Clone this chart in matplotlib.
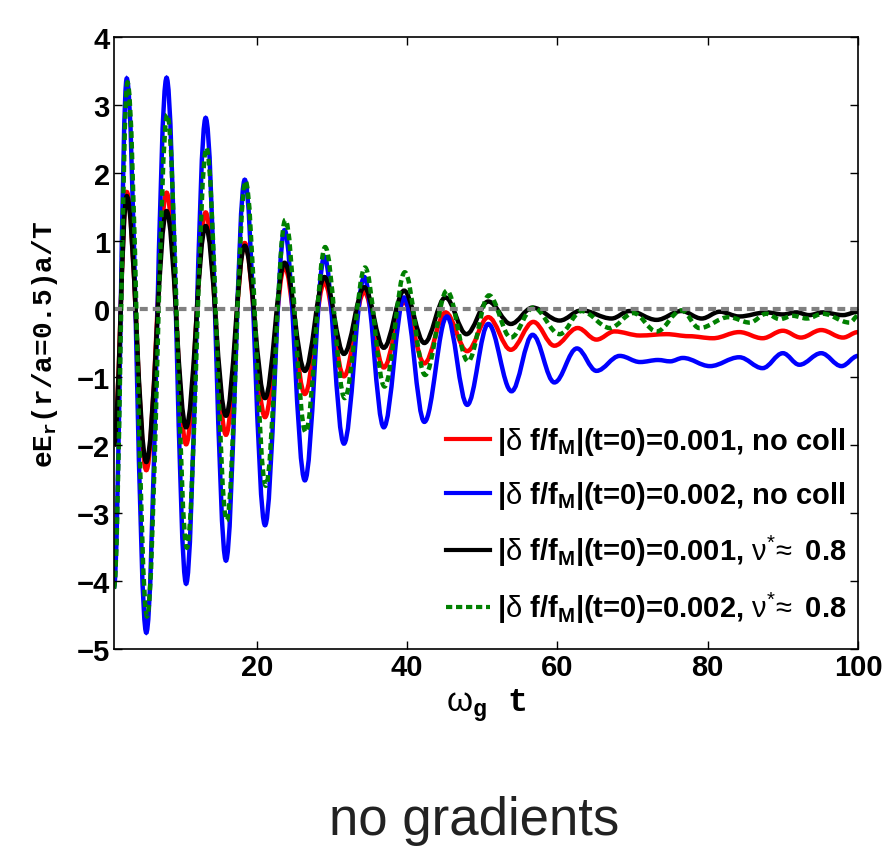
import numpy as np
import matplotlib
matplotlib.use("Agg")
import matplotlib.pyplot as plt
from matplotlib.path import Path
from matplotlib.patches import PathPatch
from matplotlib.lines import Line2D

# extrema (peaks / troughs), omega_g t vs eE_r a/T
t_red = [1.0, 2.7, 5.3, 8.0, 10.6, 13.2, 15.9, 18.4, 21.1, 23.7, 26.4, 29.0, 31.6, 34.3,
         36.9, 39.6, 42.3, 45.1, 48.0, 50.8, 53.8, 56.8, 59.6, 62.7, 65.2, 67.6, 71.0,
         74.5, 77.5, 80.7, 84.2, 87.3, 90.0, 92.4, 95.1, 98.0, 100.0]
e_red = [-2.0, 1.72, -2.37, 1.71, -1.99, 1.42, -1.85, 0.97, -1.59, 0.62, -1.25, 0.39, -0.99, 0.25,
         -0.86, 0.10, -0.80, -0.05, -0.62, -0.12, -0.60, -0.19, -0.54, -0.28, -0.45, -0.33, -0.39,
         -0.37, -0.40, -0.43, -0.34, -0.43, -0.32, -0.42, -0.31, -0.42, -0.34]

t_blue = [1.0, 2.7, 5.3, 8.0, 10.6, 13.2, 15.9, 18.4, 21.1, 23.7, 26.4, 29.0, 31.6, 34.3,
          36.9, 39.6, 42.3, 45.3, 48.0, 50.8, 53.9, 56.7, 59.6, 62.6, 65.2, 68.3, 71.0,
          73.4, 75.0, 76.7, 80.3, 84.2, 87.3, 90.0, 92.2, 95.1, 97.8, 100.0]
e_blue = [-4.1, 3.39, -4.76, 3.40, -4.04, 2.81, -3.70, 1.90, -3.18, 1.16, -2.52, 0.77, -1.98, 0.47,
          -1.74, 0.17, -1.66, -0.11, -1.41, -0.22, -1.21, -0.38, -1.08, -0.58, -0.91, -0.69, -0.78,
          -0.75, -0.77, -0.72, -0.84, -0.71, -0.87, -0.65, -0.82, -0.65, -0.84, -0.69]

t_black = [1.0, 2.7, 5.3, 8.0, 10.6, 13.2, 15.9, 18.4, 21.1, 23.7, 26.4, 29.0, 31.6, 34.3,
           36.9, 39.6, 42.3, 45.1, 47.9, 50.8, 53.8, 56.7, 60.3, 63.2, 67.2, 69.6, 73.2,
           76.5, 79.2, 81.6, 84.2, 87.8, 90.0, 91.8, 93.5, 95.3, 98.0, 100.0]
e_black = [-2.0, 1.66, -2.25, 1.44, -1.74, 1.22, -1.57, 0.93, -1.31, 0.68, -0.91, 0.47, -0.66, 0.32,
           -0.57, 0.27, -0.50, 0.17, -0.37, 0.11, -0.22, 0.02, -0.17, -0.02, -0.14, -0.03, -0.16,
           -0.03, -0.14, -0.04, -0.11, -0.05, -0.08, -0.05, -0.09, -0.05, -0.09, -0.04]

t_green = [1.0, 2.8, 5.4, 8.1, 10.7, 13.3, 16.0, 18.5, 21.2, 23.8, 26.5, 29.1, 31.7, 34.4,
           37.0, 39.7, 42.4, 45.3, 48.1, 50.9, 53.8, 56.8, 60.3, 63.2, 67.0, 70.1, 73.2,
           76.5, 78.9, 82.8, 85.6, 87.8, 89.6, 91.3, 93.2, 95.3, 98.9, 100.0]
e_green = [-4.1, 3.33, -4.52, 2.86, -3.51, 2.37, -3.11, 1.88, -2.60, 1.31, -1.81, 0.91, -1.31, 0.61,
           -1.14, 0.54, -0.97, 0.27, -0.77, 0.20, -0.42, 0.02, -0.37, -0.03, -0.28, -0.06, -0.33,
           -0.02, -0.28, -0.12, -0.20, -0.07, -0.15, -0.10, -0.14, -0.07, -0.20, -0.10]

labels = [r'|$\mathrm{\delta}$ f/f$_{\mathbf{M}}$|(t=0)=0.001, no coll',
          r'|$\mathrm{\delta}$ f/f$_{\mathbf{M}}$|(t=0)=0.002, no coll',
          r'|$\mathrm{\delta}$ f/f$_{\mathbf{M}}$|(t=0)=0.001, $\mathrm{\nu}^{*}\!\approx$ 0.8',
          r'|$\mathrm{\delta}$ f/f$_{\mathbf{M}}$|(t=0)=0.002, $\mathrm{\nu}^{*}\!\approx$ 0.8']

plt.rcParams['font.family'] = ['Liberation Sans', 'DejaVu Sans']
plt.rcParams['mathtext.fontset'] = 'custom'
plt.rcParams['mathtext.rm'] = 'Liberation Sans'
plt.rcParams['mathtext.bf'] = 'Liberation Sans:bold'
plt.rcParams['mathtext.it'] = 'Liberation Sans:italic'
plt.rcParams['mathtext.tt'] = 'Liberation Mono:bold'


def smooth_path(xs, ys, k=0.36):
    # cubic bezier through the extrema, flat tangent at each one
    verts = [(xs[0], ys[0])]
    codes = [Path.MOVETO]
    for x0, y0, x1, y1 in zip(xs[:-1], ys[:-1], xs[1:], ys[1:]):
        dx = x1 - x0
        verts += [(x0 + k * dx, y0), (x1 - k * dx, y1), (x1, y1)]
        codes += [Path.CURVE4] * 3
    return Path(verts, codes)


fig = plt.figure(figsize=(8.96, 8.54), dpi=100)
ax = fig.add_axes([0.1272, 0.2389, 0.8304, 0.7166])

series = [(t_red, e_red, 'red', '-'),
          (t_blue, e_blue, 'blue', '-'),
          (t_black, e_black, 'black', '-'),
          (t_green, e_green, 'green', (0, (1.5, 0.9)))]
handles = []
for (t, e, c, ls), lab in zip(series, labels):
    ax.add_patch(PathPatch(smooth_path(t, e), facecolor='none', edgecolor=c, lw=3.2, linestyle=ls))
    handles.append(Line2D([], [], color=c, lw=3, linestyle=ls))

ax.axhline(0, color='#808080', lw=3, linestyle=(0, (1.9, 1.2)))

ax.set_xlim(1, 100)
ax.set_ylim(-5, 4)
ax.set_xticks([20, 40, 60, 80, 100])
ax.set_yticks(range(-5, 5))
ax.tick_params(direction='in', top=True, right=True, length=6, width=1,
               labelsize=21, pad=3)
for lbl in ax.get_xticklabels() + ax.get_yticklabels():
    lbl.set_fontweight('bold')
for s in ax.spines.values():
    s.set_linewidth(1.2)

ax.set_xlabel(r'$\mathrm{\omega}_{\mathtt{g}}$ t', family='Liberation Mono',
              fontweight='bold', fontsize=24, labelpad=4)
ax.set_ylabel(r'eE$_{\mathtt{r}}$(r/a=0.5)a/T', family='Liberation Mono',
              fontweight='bold', fontsize=20, labelpad=12)

leg = ax.legend(handles, labels, loc='lower right', bbox_to_anchor=(1.0, 0.02),
                frameon=False, prop={'weight': 'bold', 'size': 21},
                handlelength=1.5, handletextpad=0.25, labelspacing=0.75, borderaxespad=0.0)

fig.text(0.529, 0.022, 'no gradients', ha='center', va='baseline', fontsize=38,
         color='#222222', family='Liberation Sans')

plt.savefig('out.png', dpi=100)
plt.close(fig)
